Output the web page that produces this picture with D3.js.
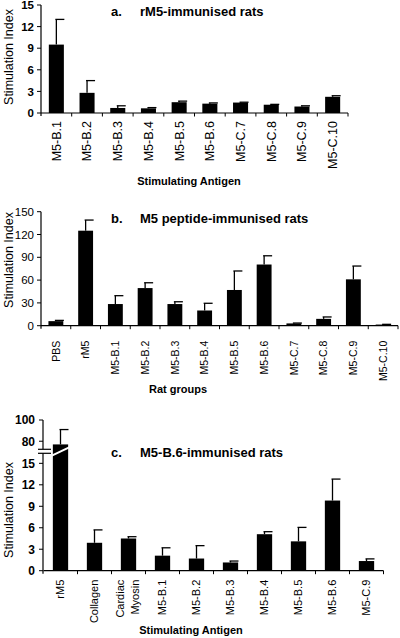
<!DOCTYPE html>
<html><head><meta charset="utf-8">
<script src="https://cdn.jsdelivr.net/npm/d3@7"></script>
<style>
html,body{margin:0;padding:0;background:#fff;}
svg{display:block;font-family:"Liberation Sans",Arial,sans-serif;}
</style></head>
<body>
<svg id="c" width="400" height="638"></svg>
<script>
// Panel a: rM5-immunised rats
const catsA = ["M5-B.1","M5-B.2","M5-B.3","M5-B.4","M5-B.5","M5-B.6","M5-C.7","M5-C.8","M5-C.9","M5-C.10"];
const valsA = [9.5, 2.8, 0.7, 0.65, 1.5, 1.3, 1.45, 1.15, 0.9, 2.25];
const errsA = [3.5, 1.7, 0.3, 0.1, 0.15, 0.1, 0.05, 0.05, 0.1, 0.15];
const ticksA = [0, 3, 6, 9, 12, 15];

// Panel b: M5 peptide-immunised rats
const catsB = ["PBS","rM5","M5-B.1","M5-B.2","M5-B.3","M5-B.4","M5-B.5","M5-B.6","M5-C.7","M5-C.8","M5-C.9","M5-C.10"];
const valsB = [6, 125, 28.5, 49.5, 28.5, 20, 47, 80.5, 3, 9, 61, 1.5];
const errsB = [1, 14, 11, 7, 3, 9.5, 25, 11.5, 0.5, 2.5, 17.5, 0.3];
const ticksB = [0, 30, 60, 90, 120, 150];

// Panel c: M5-B.6-immunised rats (broken axis)
const catsC = ["rM5","Collagen","Cardiac Myosin","M5-B.1","M5-B.2","M5-B.3","M5-B.4","M5-B.5","M5-B.6","M5-C.9"];
const valsC = [77, 3.9, 4.5, 2.1, 1.7, 1.15, 5.1, 4.1, 9.8, 1.35];
const errsC = [14, 1.8, 0.25, 1.1, 1.8, 0.2, 0.35, 1.95, 3.0, 0.3];
const ticksCLow = [0, 3, 6, 9, 12, 15];
const ticksCHigh = [80, 100];

const svg = d3.select("#c");

function drawXAxis(g, x, y0, labelOffset, fontSize) {
  const [r0, r1] = x.range();
  g.append("line").attr("x1", r0).attr("x2", r1).attr("y1", y0).attr("y2", y0)
    .attr("stroke", "#000").attr("stroke-width", 1.2);
  const bw = x.bandwidth();
  x.domain().forEach(d => {
    const bx = x(d) + bw;
    g.append("line").attr("x1", bx).attr("x2", bx).attr("y1", y0).attr("y2", y0 + 3.5)
      .attr("stroke", "#000").attr("stroke-width", 1);
  });
  x.domain().forEach(d => {
    const cx = x(d) + bw / 2;
    const parts = d === "Cardiac Myosin" ? ["Cardiac", "Myosin"] : [d];
    parts.forEach((p, k) => {
      const off = parts.length === 2 ? (k === 0 ? -8 : 7) : 0;
      g.append("text")
        .attr("transform", `translate(${cx + off},${y0 + labelOffset}) rotate(-90)`)
        .attr("text-anchor", "end")
        .attr("dy", "0.35em")
        .attr("font-size", fontSize)
        .text(p);
    });
  });
}

function drawBars(g, x, y, vals, errs, cats, frac) {
  const bw = x.bandwidth() * frac;
  cats.forEach((c, i) => {
    const cx = x(c) + x.bandwidth() / 2;
    const y0 = y(0);
    g.append("rect").attr("x", cx - bw / 2).attr("width", bw)
      .attr("y", y(vals[i])).attr("height", y0 - y(vals[i])).attr("fill", "#000");
    const ye = y(vals[i] + errs[i]);
    g.append("line").attr("x1", cx).attr("x2", cx).attr("y1", y(vals[i])).attr("y2", ye)
      .attr("stroke", "#000").attr("stroke-width", 1.3);
    g.append("line").attr("x1", cx - 1).attr("x2", cx + 8).attr("y1", ye).attr("y2", ye)
      .attr("stroke", "#000").attr("stroke-width", 1.3);
  });
}

function drawYAxis(g, y, ticks, x0, bold, fs, extendBottom) {
  const [d0, d1] = y.domain();
  g.append("line").attr("x1", x0).attr("x2", x0).attr("y1", y(d0) + (extendBottom || 0)).attr("y2", y(d1))
    .attr("stroke", "#000").attr("stroke-width", 1.2);
  ticks.forEach(t => {
    g.append("line").attr("x1", x0 - 4).attr("x2", x0).attr("y1", y(t)).attr("y2", y(t))
      .attr("stroke", "#000").attr("stroke-width", 1);
    g.append("text").attr("x", x0 - 7).attr("y", y(t)).attr("dy", "0.36em")
      .attr("text-anchor", "end").attr("font-size", fs)
      .attr("font-weight", bold ? "bold" : "normal").text(t);
  });
}

function yTitle(g, cy) {
  g.append("text").attr("transform", `translate(13,${cy}) rotate(-90)`)
    .attr("text-anchor", "middle").attr("font-size", 12.5).text("Stimulation Index");
}
function title(g, letter, text, y) {
  g.append("text").attr("x", 111).attr("y", y).attr("font-weight", "bold").attr("font-size", 13).text(letter);
  g.append("text").attr("x", 140).attr("y", y).attr("font-weight", "bold").attr("font-size", 13).text(text);
}
function xTitle(g, text, cx, y) {
  g.append("text").attr("x", cx).attr("y", y).attr("text-anchor", "middle")
    .attr("font-weight", "bold").attr("font-size", 11).text(text);
}

// ---- Panel a
{
  const g = svg.append("g");
  const x = d3.scaleBand().domain(catsA).range([41, 348]).padding(0);
  const y = d3.scaleLinear().domain([0, 15]).range([113, 5]);
  drawBars(g, x, y, valsA, errsA, catsA, 0.49);
  drawYAxis(g, y, ticksA, 41, true, 11.5, 3);
  drawXAxis(g, x, y(0), 8, 12.5);
  yTitle(g, 57);
  title(g, "a.", "rM5-immunised rats", 16);
  xTitle(g, "Stimulating Antigen", 189, 185);
}

// ---- Panel b
{
  const g = svg.append("g");
  const x = d3.scaleBand().domain(catsB).range([41, 398]).padding(0);
  const y = d3.scaleLinear().domain([0, 150]).range([325.7, 211.7]);
  drawBars(g, x, y, valsB, errsB, catsB, 0.5);
  drawYAxis(g, y, ticksB, 41, false, 11.5, 3);
  drawXAxis(g, x, y(0), 15, 10.5);
  yTitle(g, 260);
  title(g, "b.", "M5 peptide-immunised rats", 223);
  xTitle(g, "Rat groups", 178, 393);
}

// ---- Panel c (broken axis)
{
  const g = svg.append("g");
  const x = d3.scaleBand().domain(catsC).range([43.5, 383.5]).padding(0);
  const yLow = d3.scaleLinear().domain([0, 16.5]).range([570.7, 452.6]);
  const yHigh = d3.scaleLinear().domain([72.4, 100]).range([449.3, 420]);
  const yC = v => v <= 16.5 ? yLow(v) : yHigh(v);
  const bw = x.bandwidth() * 0.45;
  catsC.forEach((c, i) => {
    const cx = x(c) + x.bandwidth() / 2;
    g.append("rect").attr("x", cx - bw / 2).attr("width", bw)
      .attr("y", yC(valsC[i])).attr("height", yLow(0) - yC(valsC[i])).attr("fill", "#000");
    const ye = yC(valsC[i] + errsC[i]);
    g.append("line").attr("x1", cx).attr("x2", cx).attr("y1", yC(valsC[i])).attr("y2", ye)
      .attr("stroke", "#000").attr("stroke-width", 1.3);
    g.append("line").attr("x1", cx - 1).attr("x2", cx + 8).attr("y1", ye).attr("y2", ye)
      .attr("stroke", "#000").attr("stroke-width", 1.3);
    if (valsC[i] > 16.5) {
      g.append("line").attr("x1", cx - bw / 2 - 1).attr("x2", cx + bw / 2 + 1)
        .attr("y1", yLow(16.5) + 3).attr("y2", yHigh(72.4) - 2)
        .attr("stroke", "#fff").attr("stroke-width", 2);
    }
  });
  const x0 = 43;
  g.append("line").attr("x1", x0).attr("x2", x0).attr("y1", yLow(0) + 3).attr("y2", yLow(16.5) + 0.7)
    .attr("stroke", "#000").attr("stroke-width", 1.2);
  g.append("line").attr("x1", x0).attr("x2", x0).attr("y1", yHigh(72.4)).attr("y2", yHigh(100))
    .attr("stroke", "#000").attr("stroke-width", 1.2);
  [yHigh(72.4), yLow(16.5) + 0.7].forEach(yy => {
    g.append("line").attr("x1", 38).attr("x2", 51).attr("y1", yy).attr("y2", yy)
      .attr("stroke", "#000").attr("stroke-width", 1.2);
  });
  ticksCLow.forEach(t => {
    g.append("line").attr("x1", x0 - 4).attr("x2", x0).attr("y1", yLow(t)).attr("y2", yLow(t)).attr("stroke", "#000");
    g.append("text").attr("x", x0 - 8).attr("y", yLow(t)).attr("dy", "0.36em").attr("text-anchor", "end")
      .attr("font-size", 12).attr("font-weight", "bold").text(t);
  });
  ticksCHigh.forEach(t => {
    g.append("line").attr("x1", x0 - 4).attr("x2", x0).attr("y1", yHigh(t)).attr("y2", yHigh(t)).attr("stroke", "#000");
    g.append("text").attr("x", x0 - 8).attr("y", yHigh(t)).attr("dy", "0.36em").attr("text-anchor", "end")
      .attr("font-size", 12).attr("font-weight", "bold").text(t);
  });
  drawXAxis(g, x, yLow(0), 9, 11);
  yTitle(g, 510);
  title(g, "c.", "M5-B.6-immunised rats", 457);
  xTitle(g, "Stimulating Antigen", 191, 634);
}
</script>
</body></html>
